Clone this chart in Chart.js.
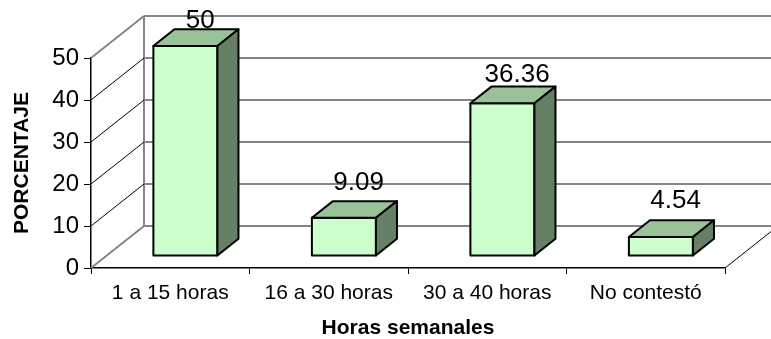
<!DOCTYPE html>
<html>
<head>
<meta charset="utf-8">
<script src="https://cdn.jsdelivr.net/npm/chart.js@4.4.1/dist/chart.umd.min.js"></script>
<style>
  html, body { margin: 0; padding: 0; background: #fff; }
  canvas { display: block; }
</style>
</head>
<body>
<canvas id="c" width="771" height="339"></canvas>
<script>
// Data
const categories = ['1 a 15 horas', '16 a 30 horas', '30 a 40 horas', 'No contestó'];
const porcentajes = [50, 9.09, 36.36, 4.54];
const yMin = 0, yMax = 50, yStep = 10;
const yTitle = 'PORCENTAJE';
const xTitle = 'Horas semanales';

// Look
const FONT = '"Liberation Sans", Arial, Helvetica, sans-serif';
const WALL_DX = 53, WALL_DY = 42;          // projected depth of the floor
const BAR_FRONT = 0.286, BAR_BACK = 0.683;  // bar depth span, as a fraction of floor depth
const GRID_GRAY = '#858585';
const FACE = '#CCFFCC', TOP = '#99C299', SIDE = '#668066';

function line(ctx, x1, y1, x2, y2) {
  ctx.beginPath(); ctx.moveTo(x1, y1); ctx.lineTo(x2, y2); ctx.stroke();
}
function poly(ctx, pts, fill) {
  ctx.beginPath();
  ctx.moveTo(pts[0][0], pts[0][1]);
  for (let i = 1; i < pts.length; i++) ctx.lineTo(pts[i][0], pts[i][1]);
  ctx.closePath();
  ctx.fillStyle = fill; ctx.fill();
  ctx.stroke();
}

// Draws the walls, floor edges and the 3-D boxes for each bar
const box3d = {
  id: 'box3d',
  beforeDatasetsDraw(chart) {
    const { ctx, chartArea: a, scales: { y } } = chart;
    ctx.save();
    ctx.lineCap = 'butt';
    // back wall gridlines
    ctx.strokeStyle = GRID_GRAY; ctx.lineWidth = 2;
    y.ticks.forEach(t => {
      const py = y.getPixelForValue(t.value) - WALL_DY;
      line(ctx, a.left + WALL_DX, py, a.right + WALL_DX, py);
    });
    // back wall left edge
    line(ctx, a.left + WALL_DX, y.getPixelForValue(yMin) - WALL_DY,
              a.left + WALL_DX, y.getPixelForValue(yMax) - WALL_DY);
    // side wall lines
    const last = y.ticks.length - 1;
    y.ticks.forEach((t, i) => {
      const py = y.getPixelForValue(t.value);
      const edge = (i === 0 || i === last);
      ctx.strokeStyle = edge ? GRID_GRAY : '#000';
      ctx.lineWidth = edge ? 2 : 1;
      line(ctx, a.left, py, a.left + WALL_DX, py - WALL_DY);
    });
    // floor right edge
    ctx.strokeStyle = '#000'; ctx.lineWidth = 1;
    line(ctx, a.right, a.bottom, a.right + WALL_DX, a.bottom - WALL_DY);
    ctx.restore();
  },
  afterDatasetsDraw(chart) {
    const { ctx } = chart;
    const meta = chart.getDatasetMeta(0);
    const fx = WALL_DX * BAR_FRONT, fy = WALL_DY * BAR_FRONT;
    const dx = WALL_DX * (BAR_BACK - BAR_FRONT), dy = WALL_DY * (BAR_BACK - BAR_FRONT);
    ctx.save();
    ctx.strokeStyle = '#000';
    ctx.lineWidth = 2;
    ctx.lineJoin = 'round';
    meta.data.forEach((bar, i) => {
      const p = bar.getProps(['x', 'y', 'base', 'width'], true);
      const l = p.x - p.width / 2 + fx, r = p.x + p.width / 2 + fx;
      const t = p.y - fy, b = p.base - fy;
      poly(ctx, [[l, t], [r, t], [r, b], [l, b]], FACE);
      poly(ctx, [[l, t], [l + dx, t - dy], [r + dx, t - dy], [r, t]], TOP);
      poly(ctx, [[r, t], [r + dx, t - dy], [r + dx, b - dy], [r, b]], SIDE);
      // value label: sits a little closer to taller boxes
      ctx.fillStyle = '#000';
      ctx.font = '26px ' + FONT;
      ctx.textAlign = 'center';
      ctx.textBaseline = 'middle';
      const lift = 21 - 0.06 * (p.base - p.y);
      ctx.fillText(String(porcentajes[i]), (l + r) / 2 + dx * 0.7, t - dy - lift);
    });
    ctx.restore();
  }
};

new Chart(document.getElementById('c'), {
  type: 'bar',
  data: {
    labels: categories,
    datasets: [{
      data: porcentajes,
      backgroundColor: 'rgba(0,0,0,0)',
      borderWidth: 0,
      barPercentage: 0.404,
      categoryPercentage: 1.0
    }]
  },
  options: {
    responsive: false,
    animation: false,
    events: [],
    layout: { padding: { top: 58, right: 46, left: 0, bottom: 0 } },
    plugins: { legend: { display: false }, tooltip: { enabled: false } },
    scales: {
      x: {
        grid: { display: true, drawOnChartArea: false, drawTicks: true, tickLength: 6, color: '#000', lineWidth: 1, offset: true },
        border: { display: true, color: '#000', width: 1.5 },
        ticks: { font: { family: FONT, size: 21 }, color: '#000', padding: 7, maxRotation: 0, autoSkip: false },
        title: { display: true, text: xTitle, color: '#000',
                 font: { family: FONT, size: 21, weight: 'bold', lineHeight: 1 }, padding: { top: 0, bottom: 0 } },
        afterFit(scale) { scale.height = 71; }
      },
      y: {
        min: yMin, max: yMax,
        grid: { display: true, drawOnChartArea: false, drawTicks: true, tickLength: 7, color: '#000', lineWidth: 1 },
        border: { display: true, color: '#000', width: 1.5 },
        ticks: { stepSize: yStep, font: { family: FONT, size: 24 }, color: '#000', padding: 5 },
        title: { display: true, text: yTitle, color: '#000',
                 font: { family: FONT, size: 21, weight: 'bold', lineHeight: 1 }, padding: { top: 12, bottom: 0 } },
        afterFit(scale) { scale.width = 91; }
      }
    }
  },
  plugins: [box3d]
});
</script>
</body>
</html>
